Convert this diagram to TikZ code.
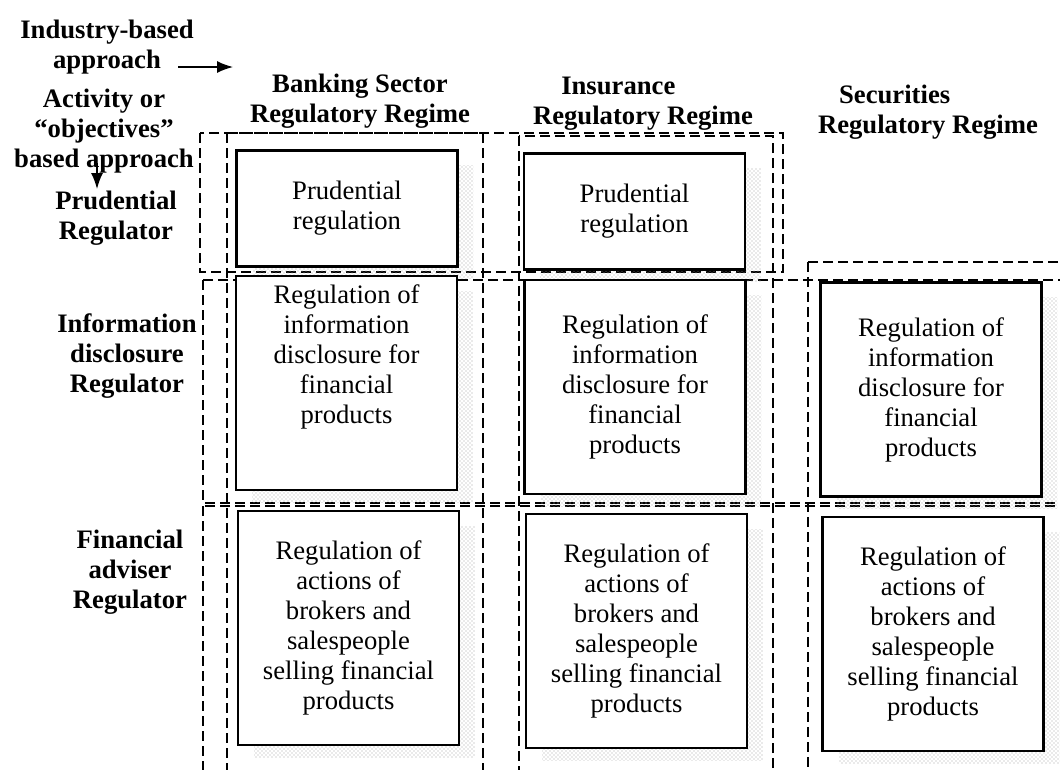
\documentclass[tikz,border=0pt]{standalone}
\usepackage{fontspec}
\setmainfont{Liberation Serif}
\usepackage{tikz}
\usetikzlibrary{arrows.meta, patterns, shadows}

\begin{document}
\begin{tikzpicture}[x=0.75pt, y=-0.75pt,
		head/.style={font=\bfseries\fontsize{20}{22.5}\selectfont, align=center, inner sep=1pt},
		regbox/.style={draw, line width=1.7pt, fill=white, align=center, minimum width=165.75pt,
			font=\fontsize{20}{22.5}\selectfont},
		shade/.style={pattern=crosshatch dots, pattern color=gray!70},
		zone/.style={dash pattern=on 7.5pt off 3.75pt, line width=1.5pt},
		arr/.style={-{Latex[length=12pt, width=9pt]}, line width=1.1pt}]
		\useasboundingbox (0,0) rectangle (1060,769);
		\begin{scope}
			\clip (0,0) rectangle (1060,769);
			\foreach \xa/\ya/\xb/\yb in {200/133/783/272, 203/280/1080/503, 203/506/1080/790,
				227/133/483/790, 519/136/773/790, 808/262/1080/790}{
				\draw [zone] (\xa,\ya) rectangle (\xb,\yb);
			}
		\end{scope}

		\node [head] (industry) at (107,47) {Industry-based\\approach};
		\node [head] (activity) at (104,131) {Activity or\\``objectives''\\based approach};
		\coordinate (indfrom) at (178,67);
		\coordinate (indto) at (233,67);
		\coordinate (actfrom) at (97,163);
		\coordinate (actto) at (97,189);
		\draw [arr] (indfrom) -- (indto);
		\draw [arr] (actfrom) -- (actto);

		\node [head] (prureg) at (116,218) {Prudential\\Regulator};
		\node [head] (inforeg) at (127,356) {Information\\disclosure\\Regulator};
		\node [head] (finreg) at (130,572) {Financial\\adviser\\Regulator};

		\node [head] (bankreg) at (360,101) {Banking Sector\\Regulatory Regime};
		\node [head] (insreg) at (643,104) {Insurance\makebox[37pt]{}\\Regulatory Regime};
		\node [head] (secreg) at (928,112) {Securities\makebox[50pt]{}\\Regulatory Regime};

		% shadows first, boxes on top
		\foreach \cx/\cy/\h in {347/208.5/116, 634.5/211.5/116, 346.5/383/214, 635/387/214, 931/389.5/214,
			348.5/628/234, 636.5/631/234, 933/634/234}{
			\fill [shade] (\cx-110.5+16,\cy-\h/2+15) rectangle (\cx+110.5+16,\cy+\h/2+12);
		}

		\node [regbox, minimum height=87pt] (bankpru) at (347,208.5) {Prudential\\regulation};
		\node [regbox, minimum height=87pt] (inspru) at (634.5,211.5) {Prudential\\regulation};

		\node [regbox, minimum height=160.5pt, text depth=43.5pt] (bankinf) at (346.5,383) {Regulation of\\information\\disclosure for\\financial\\products};
		\node [regbox, minimum height=160.5pt] (insinf) at (635,387) {Regulation of\\information\\disclosure for\\financial\\products};
		\node [regbox, minimum height=160.5pt] (secinf) at (931,389.5) {Regulation of\\information\\disclosure for\\financial\\products};

		\node [regbox, minimum height=175.5pt] (bankfin) at (348.5,628) {Regulation of\\actions of\\brokers and\\salespeople\\selling financial\\products};
		\node [regbox, minimum height=175.5pt] (insfin) at (636.5,631) {Regulation of\\actions of\\brokers and\\salespeople\\selling financial\\products};
		\node [regbox, minimum height=175.5pt] (secfin) at (933,634) {Regulation of\\actions of\\brokers and\\salespeople\\selling financial\\products};

	\end{tikzpicture}
\end{document}
